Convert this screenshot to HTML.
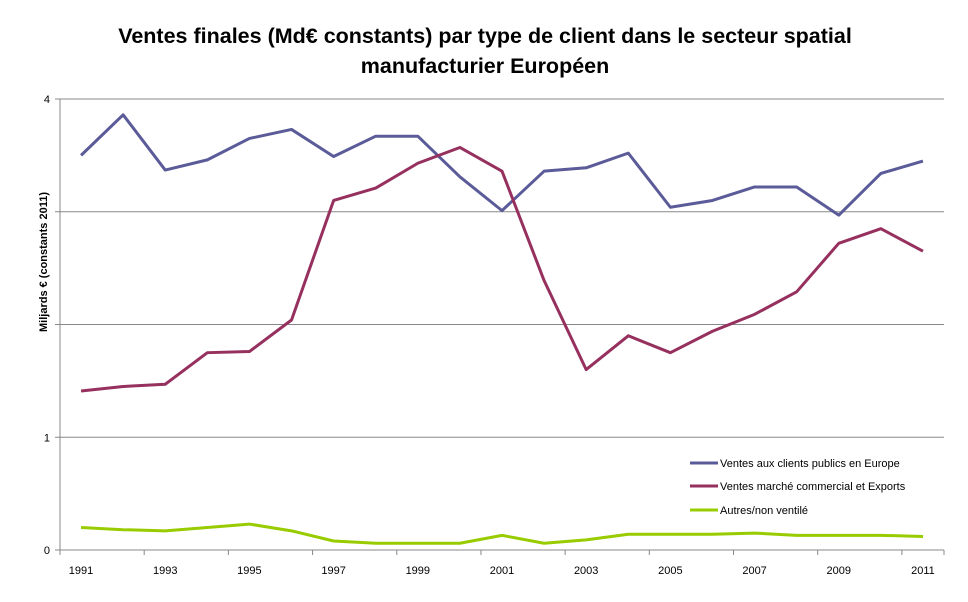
<!DOCTYPE html>
<html><head><meta charset="utf-8"><style>
body{margin:0;background:#fff;font-family:"Liberation Sans",sans-serif;}
svg text{font-family:"Liberation Sans",sans-serif;}
</style></head><body>
<svg id="chart" width="968" height="597" xmlns="http://www.w3.org/2000/svg">
<text x="485" y="43" text-anchor="middle" font-size="21.5" font-weight="bold">Ventes finales (Md€ constants) par type de client dans le secteur spatial</text>
<text x="485" y="73" text-anchor="middle" font-size="21.5" font-weight="bold">manufacturier Européen</text>
<text transform="translate(47,262) rotate(-90)" text-anchor="middle" font-size="11" font-weight="bold">Miljards € (constants 2011)</text>
<g id="grid"></g><g id="series"></g><g id="axes"></g>
<g font-size="11">
<line x1="690" y1="463" x2="718" y2="463" stroke="#5b5b99" stroke-width="3"/><text x="720" y="467">Ventes aux clients publics en Europe</text>
<line x1="690" y1="486" x2="718" y2="486" stroke="#96305e" stroke-width="3"/><text x="720" y="490">Ventes marché commercial et Exports</text>
<line x1="690" y1="510" x2="718" y2="510" stroke="#99cc00" stroke-width="3"/><text x="720" y="514">Autres/non ventilé</text>
</g>
</svg>
<script>
const years=[1991,1992,1993,1994,1995,1996,1997,1998,1999,2000,2001,2002,2003,2004,2005,2006,2007,2008,2009,2010,2011];
const publicSales=[3.50,3.86,3.37,3.46,3.65,3.73,3.49,3.67,3.67,3.31,3.01,3.36,3.39,3.52,3.04,3.10,3.22,3.22,2.97,3.34,3.45];
const commercialSales=[1.41,1.45,1.47,1.75,1.76,2.04,3.10,3.21,3.43,3.57,3.36,2.39,1.60,1.90,1.75,1.94,2.09,2.29,2.72,2.85,2.65];
const otherSales=[0.20,0.18,0.17,0.20,0.23,0.17,0.08,0.06,0.06,0.06,0.13,0.06,0.09,0.14,0.14,0.14,0.15,0.13,0.13,0.13,0.12];
const yTicks=[0,1,2,3,4];
const yTickLabels=["0","1","","","4"];
const NS="http://www.w3.org/2000/svg";
const L=60,R=944,T=99,B=550,ymax=4;
const cw=(R-L)/years.length;
const x=i=>L+cw*(i+0.5);
const y=v=>B-(B-T)*v/ymax;
function mk(tag,attrs,parent){const e=document.createElementNS(NS,tag);for(const k in attrs)e.setAttribute(k,attrs[k]);parent.appendChild(e);return e;}
const grid=document.getElementById('grid'),axes=document.getElementById('axes'),ser=document.getElementById('series');
yTicks.forEach((t,i)=>{
 if(t>0){const g=mk('line',{x1:L,x2:R,y1:y(t),y2:y(t),stroke:'#888','stroke-width':1},grid);
 
 }
 const tk=mk('line',{x1:L-5,x2:L,y1:y(t),y2:y(t),stroke:'#888'},axes);
 const tx=mk('text',{x:L-10,y:y(t)+4,'text-anchor':'end','font-size':11},axes);tx.textContent=yTickLabels[i];
 
 
});
mk('line',{x1:L,x2:L,y1:T,y2:B,stroke:'#888'},axes);
mk('line',{x1:L,x2:R,y1:B,y2:B,stroke:'#888'},axes);
years.forEach((yr,i)=>{
 if(i%2===0){
  mk('line',{x1:L+cw*i,x2:L+cw*i,y1:B,y2:B+5,stroke:'#888'},axes);
  const t=mk('text',{x:x(i),y:B+24,'text-anchor':'middle','font-size':11},axes);t.textContent=yr;
  
  
 }
});
mk('line',{x1:R,x2:R,y1:B,y2:B+5,stroke:'#888'},axes);
[[publicSales,'#5b5b99','line-public'],[commercialSales,'#96305e','line-commercial'],[otherSales,'#99cc00','line-other']].forEach(([d,c,n])=>{
 const p=mk('polyline',{points:d.map((v,i)=>x(i)+','+y(v)).join(' '),fill:'none',stroke:c,'stroke-width':3,'stroke-linejoin':'round'},ser);
 
 
});
</script>
</body></html>
